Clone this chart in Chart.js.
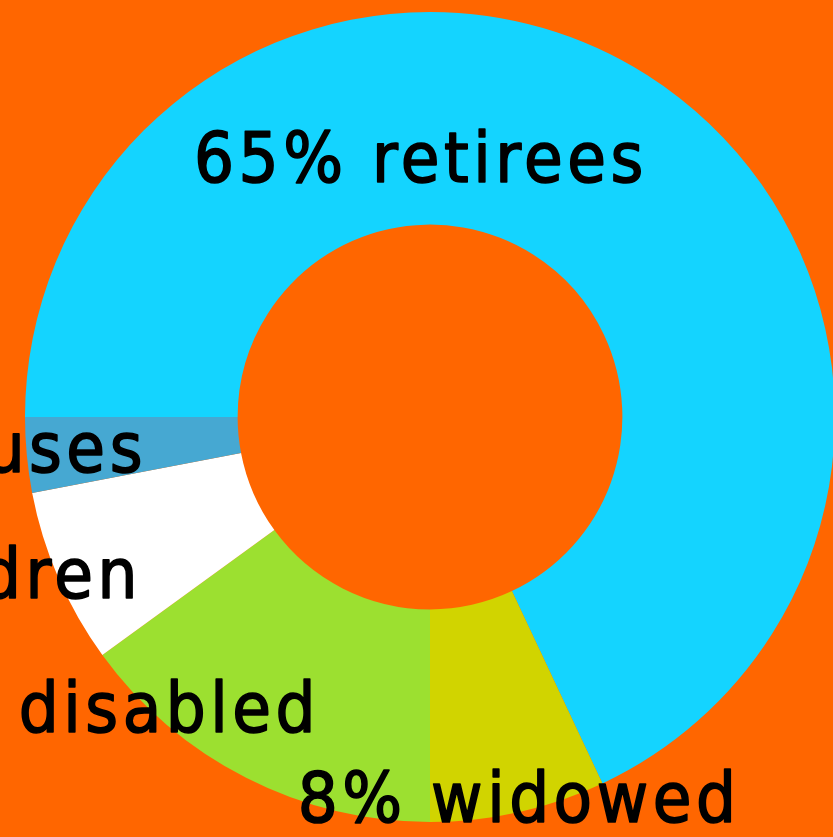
<!DOCTYPE html>
<html>
<head>
<meta charset="utf-8">
<script src="https://cdn.jsdelivr.net/npm/chart.js@4/dist/chart.umd.min.js"></script>
<style>
  html, body { margin: 0; padding: 0; background: #ff6600; overflow: hidden; }
  #wrap { width: 836px; height: 837px; }
</style>
</head>
<body>
<div id="wrap"><canvas id="myChart"></canvas></div>
<script>
// doughnut - who gets the benefit
var categories = ["retirees", "widowed", "disabled", "children", "spouses"];
var shares = [68, 7, 15, 7, 3];
var labelTexts = ["65% retirees", "8% widowed", "15% disabled", "7% children", "3% spouses"];

var colors = ["#14d4ff", "#d1d400", "#9ce030", "#ffffff", "#46a8d2"];

// where each label sits: angle (deg, clockwise from top), radius as part of outer radius
var labelSpots = [
    { angle: 357.8, r: 0.581, align: "center" },
    { angle: 167.6, r: 1.024, align: "center" },
    { angle: 199.25, r: 0.824, align: "right" },
    { angle: 237.85, r: 0.840, align: "right" },
    { angle: 259.0, r: 0.712, align: "right" }
];

var sliceLabels = {
    id: "sliceLabels",
    afterDatasetsDraw: function (chart) {
        var arc = chart.getDatasetMeta(0).data[0];
        if (!arc) return;
        var ctx = chart.ctx;
        var R = arc.outerRadius;
        ctx.save();
        ctx.fillStyle = "#000";
        ctx.strokeStyle = "#000";
        ctx.lineWidth = 1.6;
        ctx.lineJoin = "round";
        ctx.font = "70px 'DejaVu Sans Condensed', 'DejaVu Sans', sans-serif";
        ctx.letterSpacing = "4.5px";
        ctx.textBaseline = "alphabetic";
        labelTexts.forEach(function (t, i) {
            var s = labelSpots[i];
            var a = s.angle * Math.PI / 180;
            var x = arc.x + Math.sin(a) * R * s.r;
            var y = arc.y - Math.cos(a) * R * s.r;
            ctx.textAlign = s.align;
            ctx.fillText(t, x, y);
            ctx.strokeText(t, x, y); // a bit heavier, like the original
        });
        ctx.restore();
    }
};

var ctx = document.getElementById("myChart");

var myDoughnutChart = new Chart(ctx, {
    type: "doughnut",
    data: {
        labels: categories,
        datasets: [{
            data: shares,
            backgroundColor: colors,
            borderWidth: 0
        }]
    },
    options: {
        responsive: true,
        maintainAspectRatio: false,
        animation: false,
        rotation: 270,
        cutout: "47.5%",
        layout: { padding: { left: 25, right: 1, top: 12, bottom: 15 } },
        plugins: {
            legend: { display: false },
            tooltip: { enabled: false }
        }
    },
    plugins: [sliceLabels]
});
</script>
</body>
</html>
